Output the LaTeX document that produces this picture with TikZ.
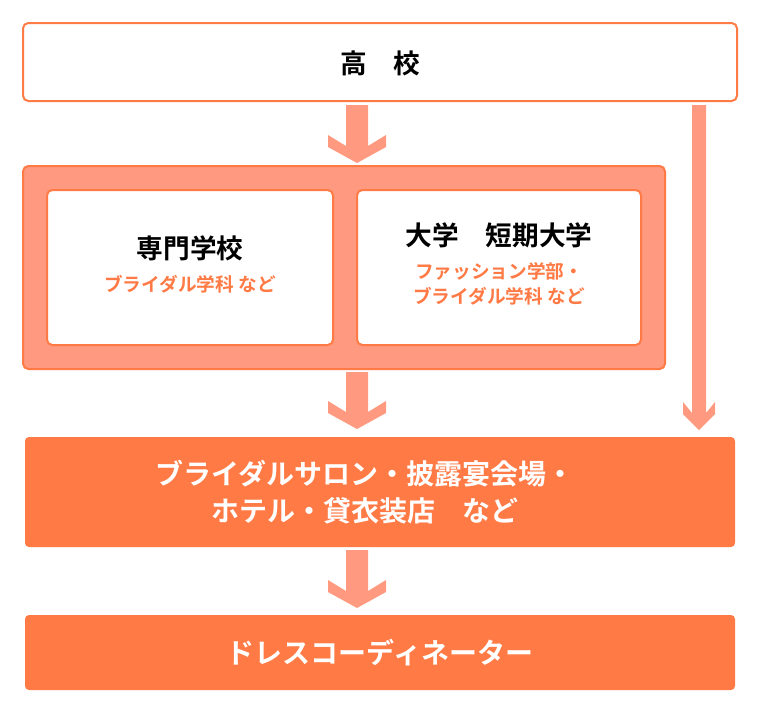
\documentclass[tikz,border=0pt]{standalone}
\usepackage{fontspec}
\newfontfamily\jp{Noto Sans CJK JP}[BoldFont={Noto Sans CJK JP Bold}]
\usetikzlibrary{positioning}
\definecolor{salmon}{HTML}{FF9A80}
\definecolor{deeporange}{HTML}{FF7A45}
\definecolor{lineorange}{HTML}{FF7A45}
\tikzset{
  box/.style={draw=lineorange, line width=1.5pt, rounded corners=4pt},
  title/.style={font=\jp\bfseries\fontsize{20}{24}\selectfont},
  sub/.style={font=\jp\bfseries\fontsize{14}{19}\selectfont, text=deeporange, align=center},
  white text/.style={font=\jp\bfseries\fontsize{21}{28}\selectfont, text=white, align=center}
}
% chevron arrow: x, top y, bottom y, half shaft, half head
\newcommand{\bigarrow}[5]{%
  \fill[salmon] (#1-#4,#2) -- (#1+#4,#2) -- (#1+#4,#3-17) -- (#1+#5,#3-28)
    -- (#1+#5,#3-16) -- (#1,#3) -- (#1-#5,#3-16) -- (#1-#5,#3-28) -- (#1-#4,#3-17) -- cycle;}
\begin{document}
\begin{tikzpicture}[x=0.75pt, y=-0.75pt]
  \useasboundingbox (0,0) rectangle (760,708);

  % --- school ---
  \draw[box, fill=white] (23,23) rectangle (737,101);
  \node[title] (hs) at (380,63) {高\hspace{1em}校};

  % --- arrows ---
  \bigarrow{357}{105}{163}{11}{29}
  \bigarrow{699}{105}{430}{7}{16}
  \bigarrow{357}{372}{429}{11}{29}
  \bigarrow{357}{550}{608}{11}{29}

  % --- schools group ---
  \draw[box, fill=salmon] (23,166) rectangle (665,369);
  \draw[box, fill=white] (47,190) rectangle (333,345);
  \draw[box, fill=white] (357,190) rectangle (641,345);
  \node[title] (senmon) at (190,248) {専門学校};
  \node[sub, below=4pt of senmon] (senmonsub) {ブライダル学科 など};
  \node[title] (daigaku) at (499,235) {大学\hspace{1em}短期大学};
  \node[sub, below=4pt of daigaku] (daigakusub) {ファッション学部・\\ブライダル学科 など};

  % --- work ---
  \fill[deeporange, rounded corners=3pt] (25,437) rectangle (735,547);
  \node[white text] (work) at (365,492) {ブライダルサロン・披露宴会場・\\ホテル・貸衣装店\hspace{1em}など};

  % --- goal ---
  \fill[deeporange, rounded corners=3pt] (25,615) rectangle (735,690);
  \node[white text] (goal) at (380,653) {ドレスコーディネーター};
\end{tikzpicture}
\end{document}
